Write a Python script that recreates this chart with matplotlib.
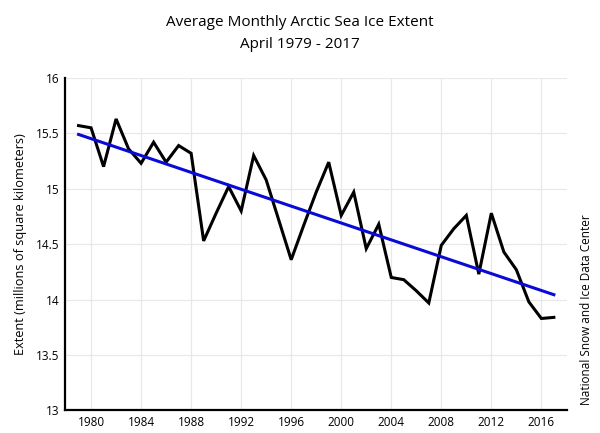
import numpy as np
import matplotlib.pyplot as plt

plt.rcParams['font.family'] = ['Open Sans', 'DejaVu Sans']

# April sea ice extent, millions of km^2
years = np.arange(1979, 2018)
extent = [15.57, 15.55, 15.20, 15.63, 15.36, 15.23, 15.42, 15.24, 15.39, 15.32,
          14.53, 14.78, 15.02, 14.80, 15.30, 15.08, 14.72, 14.36, 14.67, 14.97,
          15.24, 14.76, 14.97, 14.46, 14.68, 14.20, 14.18, 14.08, 13.97, 14.49,
          14.64, 14.76, 14.23, 14.78, 14.43, 14.27, 13.98, 13.83, 13.84]

x_ticks = np.arange(1980, 2017, 4)
y_ticks = [13, 13.5, 14, 14.5, 15, 15.5, 16]
y_tick_labels = ['13', '13.5', '14', '14.5', '15', '15.5', '16']

# linear trend
slope, intercept = np.polyfit(years, extent, 1)
trend = slope * years + intercept

fig = plt.figure(figsize=(6, 4.33), dpi=100)
ax = fig.add_axes([0.108, 0.052, 0.837, 0.768])

ax.plot(years, extent, color='black', lw=2.2, solid_joinstyle='miter')
ax.plot(years, trend, color='#0a0ad8', lw=2.2)

ax.set_xlim(1977.9, 2018.05)
ax.set_ylim(13, 16)
ax.set_xticks(x_ticks)
ax.set_yticks(y_ticks)
ax.set_yticklabels(y_tick_labels)
ax.tick_params(length=0, labelsize=8.5, pad=4)
ax.grid(True, color='#e8e8e8', lw=0.9)
ax.set_axisbelow(True)

for s in ['top', 'right']:
    ax.spines[s].set_visible(False)
for s in ['left', 'bottom']:
    ax.spines[s].set_linewidth(1.6)

ax.set_ylabel('Extent (millions of square kilometers)', fontsize=9.2, labelpad=6)

fig.text(0.5, 0.948, 'Average Monthly Arctic Sea Ice Extent', ha='center', va='center', fontsize=11)
fig.text(0.5, 0.897, 'April 1979 - 2017', ha='center', va='center', fontsize=11)
fig.text(0.978, 0.285, 'National Snow and Ice Data Center', rotation=90,
         ha='center', va='center', fontsize=8.5)

fig.savefig('out.png', dpi=100)
